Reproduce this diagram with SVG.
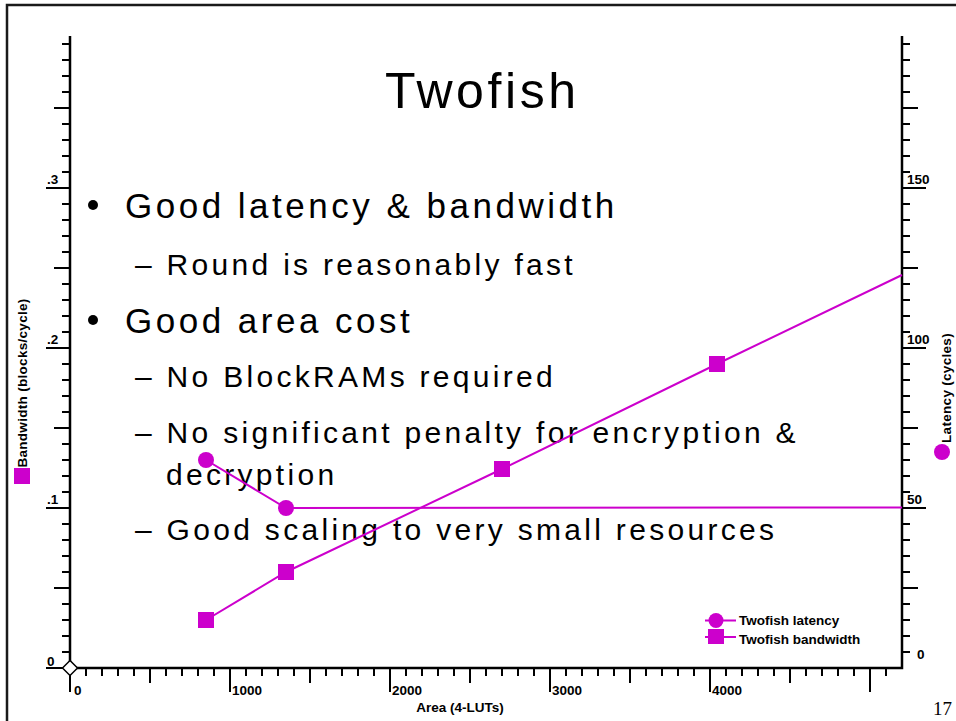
<svg xmlns="http://www.w3.org/2000/svg" width="956" height="721" viewBox="0 0 956 721">
  <style>
    .frame { fill: none; stroke: #1a1a1a; stroke-width: 2.5; }
    .axis { fill: none; stroke: #000; stroke-width: 2.5; }
    .tick { fill: none; stroke: #000; stroke-width: 2; }
    .lbl { font-family: "Liberation Sans", Arial, sans-serif; font-weight: bold; font-size: 13.5px; fill: #000; }
    .title { font-family: "Liberation Sans", Arial, sans-serif; font-size: 50px; letter-spacing: 3.6px; fill: #000; }
    .b1 { font-family: "Liberation Sans", Arial, sans-serif; font-size: 35px; letter-spacing: 3.5px; fill: #000; }
    .b2 { font-family: "Liberation Sans", Arial, sans-serif; font-size: 30px; letter-spacing: 3.3px; fill: #000; }
    .series { fill: none; stroke: #CC00CC; stroke-width: 2; }
    .mark { fill: #CC00CC; }
    .pg { font-family: "Liberation Serif", "Times New Roman", serif; font-size: 19px; fill: #000; }
  </style>

  <rect width="956" height="721" fill="#fff"/>

  <!-- page frame -->
  <path class="frame" d="M7 721 V5 H956"/>

  <!-- slide text -->
  <g id="title">
    <text class="title" x="385" y="108">Twofish</text>
  </g>
  <g id="bullets">
    <circle cx="93" cy="205" r="5" fill="#000"/>
    <text class="b1" x="125" y="218">Good latency &amp; bandwidth</text>
    <text class="b2" x="135" y="275">– Round is reasonably fast</text>
    <circle cx="93" cy="320" r="5" fill="#000"/>
    <text class="b1" x="125" y="333">Good area cost</text>
    <text class="b2" x="135" y="387">– No BlockRAMs required</text>
    <text class="b2" x="135" y="443">– No significant penalty for encryption &amp;</text>
    <text class="b2" x="166" y="485">decryption</text>
    <text class="b2" x="135" y="540">– Good scaling to very small resources</text>
  </g>

  <!-- axes -->
  <g id="axes">
    <path class="axis" d="M70 36 V668 H902 V36"/>
    <!-- left axis ticks -->
    <path class="tick" d="M62 652h8M62 636h8M62 620h8M62 604h8M62 572h8M62 556h8M62 540h8M62 524h8M62 492h8M62 476h8M62 460h8M62 444h8M62 412h8M62 396h8M62 380h8M62 364h8M62 332h8M62 316h8M62 300h8M62 284h8M62 252h8M62 236h8M62 220h8M62 204h8M62 172h8M62 156h8M62 140h8M62 124h8M62 92h8M62 76h8M62 60h8M62 44h8
      M54 588h16M54 428h16M54 268h16M54 108h16
      M46 668h24M46 508h24M46 348h24M46 188h24"/>
    <!-- right axis ticks -->
    <path class="tick" d="M902 652h8M902 636h8M902 620h8M902 604h8M902 572h8M902 556h8M902 540h8M902 524h8M902 492h8M902 476h8M902 460h8M902 444h8M902 412h8M902 396h8M902 380h8M902 364h8M902 332h8M902 316h8M902 300h8M902 284h8M902 252h8M902 236h8M902 220h8M902 204h8M902 172h8M902 156h8M902 140h8M902 124h8M902 92h8M902 76h8M902 60h8M902 44h8
      M902 588h16M902 428h16M902 268h16M902 108h16
      M902 508h24M902 348h24M902 188h24"/>
    <!-- bottom axis ticks -->
    <path class="tick" d="M86 668v8M102 668v8M118 668v8M134 668v8M166 668v8M182 668v8M198 668v8M214 668v8M246 668v8M262 668v8M278 668v8M294 668v8M326 668v8M342 668v8M358 668v8M374 668v8M406 668v8M422 668v8M438 668v8M454 668v8M486 668v8M502 668v8M518 668v8M534 668v8M566 668v8M582 668v8M598 668v8M614 668v8M646 668v8M662 668v8M678 668v8M694 668v8M726 668v8M742 668v8M758 668v8M774 668v8M806 668v8M822 668v8M838 668v8M854 668v8M886 668v8
      M150 668v15M310 668v15M470 668v15M630 668v15M790 668v15
      M70 668v24M230 668v24M390 668v24M550 668v24M710 668v24M870 668v24"/>
    <!-- origin marker -->
    <path d="M70 660.5 L77.5 668 L70 675.5 L62.5 668 Z" fill="#fff" stroke="#000" stroke-width="1.5"/>

    <!-- tick labels -->
    <text class="lbl" x="47" y="184">.3</text>
    <text class="lbl" x="47" y="344">.2</text>
    <text class="lbl" x="47" y="504">.1</text>
    <text class="lbl" x="47" y="666">0</text>
    <text class="lbl" x="907" y="184">150</text>
    <text class="lbl" x="907" y="344">100</text>
    <text class="lbl" x="907" y="504">50</text>
    <text class="lbl" x="917" y="659">0</text>
    <text class="lbl" x="74" y="695">0</text>
    <text class="lbl" x="232" y="695">1000</text>
    <text class="lbl" x="392" y="695">2000</text>
    <text class="lbl" x="552" y="695">3000</text>
    <text class="lbl" x="712" y="695">4000</text>

    <!-- axis titles -->
    <text class="lbl" x="460" y="712" text-anchor="middle">Area (4-LUTs)</text>
    <text class="lbl" text-anchor="middle" transform="translate(27 383) rotate(-90)" style="letter-spacing:0.3px">Bandwidth (blocks/cycle)</text>
    <rect class="mark" x="14" y="468" width="16" height="16"/>
    <text class="lbl" text-anchor="middle" transform="translate(951 388) rotate(-90)" style="letter-spacing:0.3px">Latency (cycles)</text>
    <circle class="mark" cx="942" cy="452" r="8"/>
  </g>

  <!-- data series -->
  <g id="connectors">
    <polyline class="series" points="206,460 286,508 902,507.5"/>
    <polyline class="series" points="206,620 286,572 502,469 717,364 902,275"/>
  </g>
  <g id="latency-points">
    <circle class="mark" cx="206" cy="460" r="8"/>
    <circle class="mark" cx="286" cy="508" r="8"/>
  </g>
  <g id="bandwidth-points">
    <rect class="mark" x="198" y="612" width="16" height="16"/>
    <rect class="mark" x="278" y="564" width="16" height="16"/>
    <rect class="mark" x="494" y="461" width="16" height="16"/>
    <rect class="mark" x="709" y="356" width="16" height="16"/>
  </g>

  <!-- legend -->
  <g id="legend">
    <path class="series" d="M705 620.5 H736 M705 637 H736"/>
    <circle class="mark" cx="716" cy="620.5" r="7.5"/>
    <rect class="mark" x="708" y="629" width="16" height="15"/>
    <text class="lbl" x="739" y="625">Twofish latency</text>
    <text class="lbl" x="739" y="644">Twofish bandwidth</text>
  </g>

  <!-- page number -->
  <text class="pg" x="933" y="715">17</text>
</svg>
